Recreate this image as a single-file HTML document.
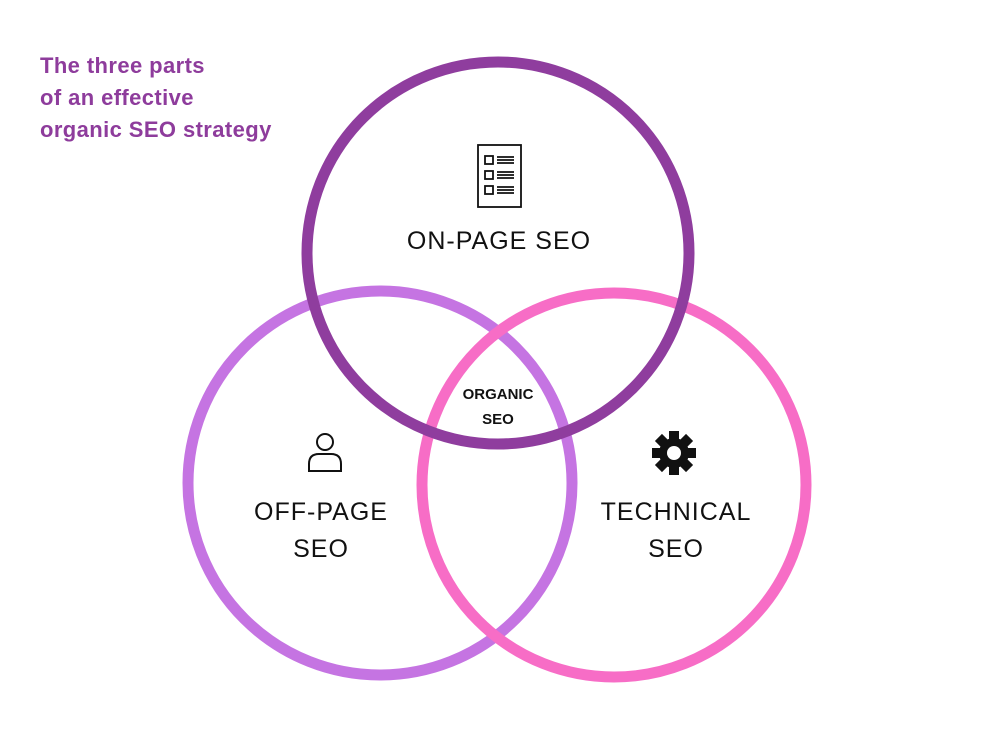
<!DOCTYPE html>
<html><head><style>
body{margin:0;width:1000px;height:750px;background:#fff;overflow:hidden;}
svg{display:block}
</style></head><body>
<svg width="1000" height="750" xmlns="http://www.w3.org/2000/svg">
<g font-family="Liberation Sans, sans-serif" font-weight="bold" font-size="22" fill="#8e3c9c" letter-spacing="0.4">
<text x="40" y="73">The three parts</text>
<text x="40" y="105">of an effective</text>
<text x="40" y="137">organic SEO strategy</text>
</g>
<circle cx="380" cy="483" r="192" fill="none" stroke="#c574e2" stroke-width="11"/>
<circle cx="614" cy="485" r="192" fill="none" stroke="#f76dc6" stroke-width="11"/>
<circle cx="498" cy="253" r="191" fill="none" stroke="#8f3d9e" stroke-width="11"/>
<g fill="none" stroke="#111" stroke-width="1.8">
<rect x="478" y="145" width="43" height="62"/>
<rect x="485" y="156" width="8" height="8"/>
<rect x="485" y="171" width="8" height="8"/>
<rect x="485" y="186" width="8" height="8"/>
<path d="M497 157h17M497 160h17M497 163h17M497 172h17M497 175h17M497 178h17M497 187h17M497 190h17M497 193h17"/>
</g>
<g font-family="Liberation Sans, sans-serif" font-size="25" fill="#111" text-anchor="middle" letter-spacing="1">
<text x="499" y="249">ON-PAGE SEO</text>
<text x="321" y="520">OFF-PAGE</text>
<text x="321" y="557">SEO</text>
<text x="676" y="520">TECHNICAL</text>
<text x="676" y="557">SEO</text>
</g>
<g font-family="Liberation Sans, sans-serif" font-size="15" font-weight="bold" fill="#111" text-anchor="middle">
<text x="498" y="399">ORGANIC</text>
<text x="498" y="424">SEO</text>
</g>
<g fill="none" stroke="#111" stroke-width="2">
<circle cx="325" cy="442" r="8"/>
<path d="M309 471 v-7 q0-10 10-10 h12 q10 0 10 10 v7 z"/>
</g>
<g transform="translate(674,453)" fill="#111">
<circle r="15"/>
<rect x="-5" y="-22" width="10" height="44"/>
<rect x="-5" y="-22" width="10" height="44" transform="rotate(45)"/>
<rect x="-5" y="-22" width="10" height="44" transform="rotate(90)"/>
<rect x="-5" y="-22" width="10" height="44" transform="rotate(135)"/>
<circle r="7" fill="#fff"/>
</g>
</svg>
</body></html>
